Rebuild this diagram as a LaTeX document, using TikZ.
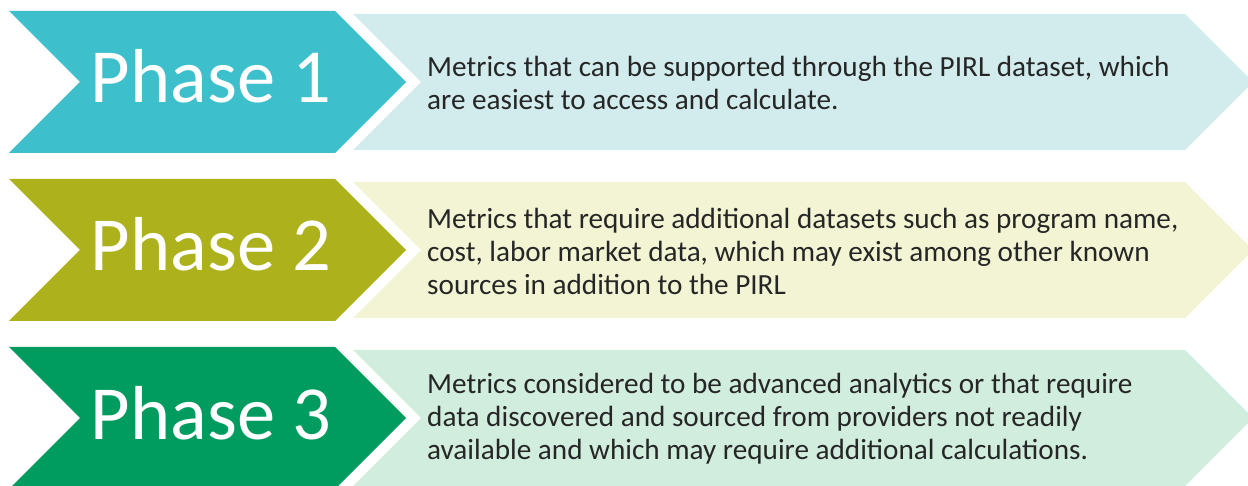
\documentclass[tikz,border=0pt]{standalone}
\usepackage{fontspec}
\setmainfont{Carlito}
\definecolor{c1}{HTML}{3EC0CC}
\definecolor{l1}{HTML}{D2EBEC}
\definecolor{c2}{HTML}{ADB11B}
\definecolor{l2}{HTML}{F2F4D3}
\definecolor{c3}{HTML}{009B5E}
\definecolor{l3}{HTML}{D0EDDD}
\definecolor{txt}{HTML}{262626}
\tikzset{
  phaselabel/.style={text=white, font=\fontsize{76.5}{90}\selectfont, anchor=base, inner sep=0pt},
  desclabel/.style={text=txt, font=\fontsize{29.2}{33}\selectfont, align=left, anchor=west, inner sep=0pt},
}
\newcommand{\rowshapes}[3]{%
  \fill[#2] (9,{485-(#1)+71}) -- (335,{485-(#1)+71}) -- (406,{485-(#1)}) -- (335,{485-(#1)-71}) -- (9,{485-(#1)-71}) -- (80,{485-(#1)}) -- cycle;
  \fill[#3] (353,{485-(#1)+68}) -- (1185,{485-(#1)+68}) -- (1253,{485-(#1)}) -- (1185,{485-(#1)-68}) -- (353,{485-(#1)-68}) -- (421,{485-(#1)}) -- cycle;
}
\begin{document}
\begin{tikzpicture}[x=1pt,y=1pt]
\useasboundingbox (0,0) rectangle (1248,485);
\clip (0,0) rectangle (1248,485);
\rowshapes{82}{c1}{l1}
\rowshapes{250}{c2}{l2}
\rowshapes{418}{c3}{l3}
\node[phaselabel] (p1) at (211,{485-103}) {Phase 1};
\node[phaselabel] (p2) at (211,{485-271}) {Phase 2};
\node[phaselabel] (p3) at (211,{485-439}) {Phase 3};
\node[desclabel] (d1) at (427,{485-83}) {Metrics that can be supported through the PIRL dataset, which\\are easiest to access and calculate.};
\node[desclabel] (d2) at (427,{485-251}) {Metrics that require additional datasets such as program name,\\cost, labor market data, which may exist among other known\\sources in addition to the PIRL};
\node[desclabel] (d3) at (427,{485-419}) {Metrics considered to be advanced analytics or that require\\data discovered and sourced from providers not readily\\available and which may require additional calculations.};
\end{tikzpicture}
\end{document}
